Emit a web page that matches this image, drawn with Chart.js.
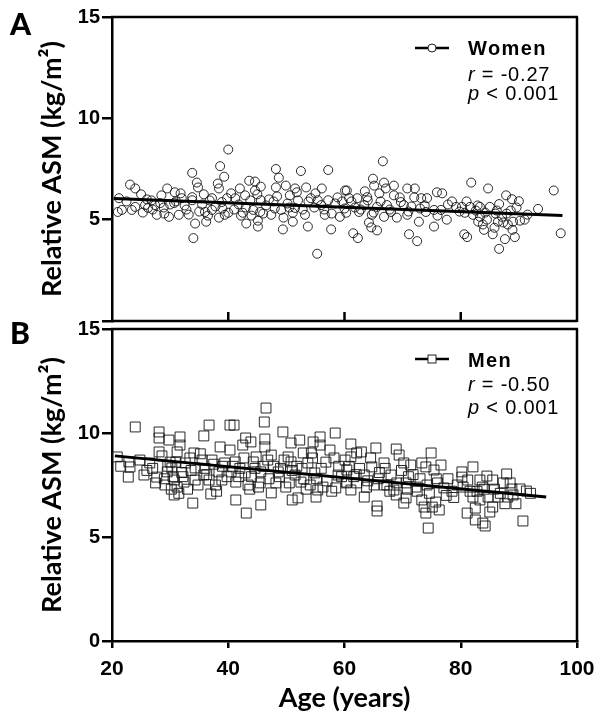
<!DOCTYPE html>
<html>
<head>
<meta charset="utf-8">
<script src="https://cdn.jsdelivr.net/npm/chart.js@4"></script>
<style>
  html, body { margin:0; padding:0; background:#fff; }
  #wrap { position:relative; width:604px; height:723px; overflow:hidden; background:#fff; }
  canvas { position:absolute; left:0; }
  .lbl { position:absolute; font-family:Lato, "Open Sans", sans-serif; font-weight:900; font-size:30px; color:#000; line-height:30px; }
  .leg { position:absolute; left:468px; font-family:"Liberation Sans", Arial, sans-serif; font-size:20px; letter-spacing:0.8px; color:#000; line-height:22px; white-space:nowrap; }
  .leg b { font-weight:700; letter-spacing:1.4px; }
  .key { position:absolute; }
</style>
</head>
<body>
<div id="wrap">
  <canvas id="cA" width="604" height="335" style="top:0px"></canvas>
  <canvas id="cB" width="604" height="423" style="top:300px"></canvas>
  <div class="lbl" style="left:10px; top:8px;">A</div>
  <div class="lbl" style="left:10px; top:317px;">B</div>

  <svg class="key" style="left:413px; top:40px" width="38" height="16">
    <line x1="2" y1="8" x2="36" y2="8" stroke="#000" stroke-width="2.5"/>
    <circle cx="19" cy="8" r="4" fill="#fff" stroke="#222" stroke-width="1"/>
  </svg>
  <div class="leg" style="top:37px;"><b>Women</b></div>
  <div class="leg" style="top:63px;"><i>r</i> = -0.27</div>
  <div class="leg" style="top:82px;"><i>p</i> &lt; 0.001</div>

  <svg class="key" style="left:413px; top:351px" width="38" height="16">
    <line x1="2" y1="8" x2="36" y2="8" stroke="#000" stroke-width="2.5"/>
    <rect x="15" y="4" width="8" height="8" fill="#fff" stroke="#222" stroke-width="1"/>
  </svg>
  <div class="leg" style="top:349px;"><b>Men</b></div>
  <div class="leg" style="top:373px;"><i>r</i> = -0.50</div>
  <div class="leg" style="top:396px;"><i>p</i> &lt; 0.001</div>
</div>
<script>
// ---------- data ----------
const xTicks = [20, 40, 60, 80, 100];
const yTicks = [0, 5, 10, 15];

const womenAge = [23.1,24.0,25.0,21.2,21.0,21.7,23.4,24.0,26.2,27.7,29.8,29.5,30.8,31.5,30.7,33.8,34.6,34.8,33.8,34.3,34.0,36.2,38.6,39.3,38.2,38.4,37.2,38.9,39.8,36.0,37.2,38.4,39.4,32.0,33.8,27.4,25.7,28.3,40.0,
48.2,48.7,52.5,57.2,43.6,44.6,45.6,42.0,44.6,48.2,49.9,51.5,53.4,56.1,60.1,48.4,42.9,41.2,45.6,50.6,54.2,55.4,57.2,40.0,42.5,44.3,45.5,47.4,49.1,51.1,53.2,56.6,59.2,43.1,45.1,49.4,51.1,53.7,57.7,55.3,45.1,51.5,56.0,
66.6,64.9,65.1,66.8,67.1,68.5,60.4,70.8,72.1,75.9,76.8,73.2,74.2,60.8,62.2,63.9,68.5,69.7,70.2,63.4,65.6,67.3,60.3,62.5,64.7,66.8,69.0,70.8,74.0,75.4,76.6,79.2,77.6,72.8,64.2,64.6,65.6,75.4,61.5,62.3,71.1,72.5,80.6,68.0,
81.8,84.7,96.0,87.8,88.8,90.0,86.6,93.3,80.2,81.6,83.3,85.0,80.7,82.1,83.0,83.8,86.4,87.3,88.1,90.2,81.1,85.5,87.6,89.3,86.6,97.2,83.3,87.1,
22.5,26.8,28.9,31.0,32.8,35.5,36.8,41.8,43.8,46.5,47.8,50.2,52.0,54.8,58.4,59.6,61.8,64.0,66.2,71.5,73.0,77.8,78.5,82.6,84.2,86.0,88.6,89.6,91.5,85.8,84.0,88.9,
25.3,26.0,27.0,28.5,29.0,30.0,31.8,32.5,33.2,35.0,35.8,36.5,37.8,39.0,40.5,41.0,42.2,43.0,44.0,45.0,46.0,47.0,48.0,49.5,50.5,51.8,52.8,53.8,55.0,56.5,57.8,58.8,60.0,61.2,62.8,63.5,65.0,66.0,67.8,69.5,71.0,72.0,73.8,76.0,79.8,81.0,82.9,84.5,86.2,87.9,89.0,91.0];
const womenAsm = [6.73,6.54,6.25,6.06,5.38,5.48,5.48,5.63,5.58,5.24,5.14,6.54,6.35,5.24,5.82,7.31,6.83,6.59,6.11,4.81,4.09,4.90,7.64,7.12,6.78,6.54,6.06,5.87,6.06,5.38,5.48,5.10,5.24,6.06,5.96,5.72,5.72,5.82,8.46,
7.50,7.07,7.40,7.45,6.92,6.88,6.63,6.54,6.44,6.59,6.68,6.54,6.59,6.54,6.44,6.15,6.20,6.06,5.96,6.20,6.06,5.96,5.96,5.34,5.34,5.48,5.38,5.24,5.48,5.34,5.24,5.24,5.14,4.81,4.66,4.52,4.90,4.66,4.52,3.32,4.95,5.58,5.72,
7.88,7.02,6.68,6.83,6.54,6.68,6.44,6.54,6.54,6.35,6.30,6.06,6.06,6.06,6.06,6.11,6.20,5.87,5.72,5.72,5.63,5.72,5.34,5.38,5.24,5.14,5.10,5.24,5.38,5.48,5.48,5.63,5.00,4.90,4.86,4.62,4.47,4.66,4.33,4.09,4.28,3.94,4.28,5.38,
6.83,6.54,6.44,6.20,6.01,5.91,5.77,5.53,5.63,5.63,5.63,5.63,5.34,5.24,4.90,4.76,4.90,4.86,4.76,4.95,4.14,4.28,4.04,4.14,3.56,4.33,5.14,5.14,
5.90,5.95,5.60,5.90,5.50,5.75,5.95,5.75,5.95,5.70,5.90,5.80,5.95,5.60,5.80,5.90,5.60,5.95,5.90,5.65,5.55,5.75,5.90,5.45,5.35,5.30,5.45,5.60,5.25,4.60,4.50,4.50,
5.35,6.00,5.50,6.20,5.30,5.75,6.30,5.70,5.25,5.40,6.25,5.20,5.65,5.55,6.30,5.50,5.20,5.60,5.20,6.25,5.30,6.00,5.55,5.10,5.60,6.35,5.50,5.90,6.30,5.50,5.30,6.10,5.55,5.90,5.50,6.40,5.35,6.30,5.50,6.10,5.40,6.10,5.70,5.20,5.40,5.90,5.70,5.00,5.45,5.30,4.90,5.00];
const womenFitAge = [20.3, 97.5];
const womenFitAsm = [6.05, 5.20];

const menAge = [24.0,28.1,28.1,29.8,31.7,31.7,36.7,35.8,38.6,40.3,28.1,31.2,34.1,37.2,20.9,22.9,26.5,23.1,22.8,25.5,27.7,29.5,30.3,30.7,29.1,31.2,32.4,34.3,35.8,36.7,38.4,38.9,30.7,33.9,37.0,34.3,32.6,35.5,33.4,39.4,
41.0,46.5,46.2,49.4,43.0,43.9,42.5,46.3,46.3,50.8,52.3,54.6,55.8,58.4,55.8,40.3,44.8,47.4,50.3,52.9,54.3,57.5,41.2,44.3,50.8,53.7,60.1,40.5,42.9,45.6,48.6,51.5,54.9,58.9,41.3,43.4,45.5,48.2,49.9,52.5,54.1,56.3,58.5,60.3,47.4,41.3,45.6,43.1,51.0,52.0,55.1,55.4,
61.1,62.9,65.4,68.9,69.4,74.9,61.1,62.1,64.7,66.8,70.2,71.4,73.3,74.0,76.6,75.4,60.4,63.4,68.0,60.4,62.1,65.1,66.8,68.5,70.6,72.3,74.2,77.1,79.4,80.2,61.1,63.4,68.9,70.6,70.2,73.3,73.7,75.7,76.3,75.1,65.6,65.6,74.0,74.4,67.3,
82.1,84.5,87.9,80.2,81.2,83.3,85.5,87.3,90.2,91.3,88.8,80.4,82.1,83.3,84.7,86.4,88.1,89.0,82.5,85.5,85.0,82.5,83.8,84.2,90.7,81.1,
27.0,29.0,30.0,32.0,33.0,36.0,37.8,39.8,42.0,44.0,46.0,47.0,49.0,51.0,53.0,56.0,57.0,59.0,62.0,64.0,66.0,69.0,71.0,72.5,75.8,77.5,78.5,82.8,86.8,89.5,84.0,30.2,31.5,
21.5,24.8,26.0,27.5,28.6,29.6,30.5,31.0,32.2,33.6,34.8,35.2,36.3,37.5,38.0,39.0,40.8,41.8,42.7,43.7,44.6,45.2,46.8,47.8,48.8,49.6,50.5,51.8,52.7,53.4,54.5,55.2,56.8,57.8,58.2,59.5,60.8,61.6,62.6,63.8,64.5,65.8,67.0,67.8,69.8,70.8,71.8,73.0,74.6,76.0,77.8,78.8,81.6,83.7,85.8,87.6,88.5,92.0];
const menAsm = [10.29,10.05,9.76,9.66,9.81,9.42,10.38,9.86,9.33,10.38,9.09,9.09,9.04,8.70,8.85,8.61,8.56,8.37,7.88,7.98,7.88,8.13,8.32,7.74,7.50,7.40,7.64,7.74,7.98,7.74,8.13,7.74,7.02,6.63,7.07,8.32,8.56,8.70,8.80,8.56,
10.38,11.20,10.53,10.05,9.76,9.57,9.42,9.71,9.33,9.52,9.66,9.57,9.81,10.00,9.42,9.18,8.85,8.94,8.85,9.04,9.04,9.18,8.61,8.61,8.61,8.56,8.70,8.13,8.08,8.13,8.13,7.98,8.08,7.98,7.64,7.50,7.60,7.60,7.40,7.64,7.50,7.40,7.36,7.60,7.12,6.78,6.54,6.15,6.78,6.88,6.92,7.26,
9.47,9.09,9.28,9.23,8.94,9.04,8.85,9.04,8.37,8.56,8.56,8.46,8.56,8.37,8.46,8.22,8.22,7.98,7.98,7.64,7.60,7.50,7.50,7.26,7.60,7.40,7.50,7.36,7.50,7.88,7.26,6.92,7.02,6.88,6.63,6.78,6.44,6.68,6.30,6.44,6.49,6.25,6.15,5.43,7.50,
8.37,7.93,8.03,8.13,7.74,7.74,7.74,7.60,7.31,7.21,7.31,7.40,6.92,6.78,6.92,6.92,6.92,7.02,6.39,6.44,6.20,5.82,5.67,5.53,5.77,6.15,
8.30,7.80,8.60,8.10,7.30,8.30,7.50,7.90,8.30,7.90,8.40,7.80,8.30,8.20,7.80,8.30,7.70,8.40,8.00,7.70,8.10,7.60,7.90,7.20,7.80,7.00,7.20,7.20,7.10,6.60,7.30,7.30,7.10,
8.40,8.70,8.20,7.60,8.90,8.40,7.90,8.60,7.90,8.20,7.50,9.00,8.00,8.50,7.20,8.40,8.40,7.90,8.80,7.30,8.30,7.40,8.70,8.40,7.90,8.70,7.60,8.40,8.30,7.30,8.80,7.80,8.60,7.20,8.80,7.90,8.40,7.90,8.30,7.40,8.80,7.80,8.30,7.20,8.20,7.30,8.00,7.80,7.10,7.60,7.80,6.90,7.20,7.40,7.30,6.60,7.60,7.10];
const menFitAge = [20.5, 94.7];
const menFitAsm = [8.90, 6.92];

const yTitle = 'Relative ASM (kg/m\u00B2)';
const xTitle = 'Age (years)';

// ---------- helpers ----------
const pts = (xs, ys) => xs.map((x, i) => ({x, y: ys[i]}));
const tickFont = {family: '"Liberation Sans", Arial, sans-serif', weight: 'bold', size: 20};
const titleFont = {family: 'Lato, "Open Sans", sans-serif', weight: 'bold', size: 27};
const AXW = 2.5;

function yScale(hideZero) {
  return {
    type: 'linear', min: 0, max: 15,
    afterBuildTicks: s => { s.ticks = yTicks.map(v => ({value: v})); },
    afterFit: s => { s.width = 112; },
    grid: {drawOnChartArea: false, drawTicks: true, tickLength: 10, color: '#000', lineWidth: AXW},
    border: {display: true, color: '#000', width: AXW},
    ticks: {color: '#000', font: tickFont, padding: 2,
      callback: v => (hideZero && v === 0) ? '' : String(v)},
    title: {display: true, text: yTitle, color: '#000', font: titleFont, padding: {top: 36, bottom: 0}}
  };
}

function framePlugin(id, sides, inwardTicks) {
  return {
    id,
    afterDraw(chart) {
      const {ctx, chartArea: a, scales: {x}} = chart;
      ctx.save();
      ctx.strokeStyle = '#000';
      ctx.lineWidth = AXW;
      ctx.beginPath();
      if (sides.includes('top')) { ctx.moveTo(a.left - 1, a.top); ctx.lineTo(a.right + 1, a.top); }
      if (sides.includes('right')) { ctx.moveTo(a.right, a.top); ctx.lineTo(a.right, a.bottom + 1); }
      if (sides.includes('bottom')) { ctx.moveTo(a.left, a.bottom); ctx.lineTo(a.right, a.bottom); }
      if (inwardTicks) {
        xTicks.slice(1, -1).forEach(v => {
          const px = x.getPixelForValue(v);
          ctx.moveTo(px, a.bottom); ctx.lineTo(px, a.bottom - 9);
        });
      }
      ctx.stroke();
      ctx.restore();
    }
  };
}

Chart.defaults.animation = false;

// ---------- Panel A: Women ----------
new Chart(document.getElementById('cA'), {
  type: 'scatter',
  data: {
    datasets: [
      {label: 'Women fit', type: 'line', data: pts(womenFitAge, womenFitAsm), borderColor: '#000', borderWidth: 3,
       pointRadius: 0, fill: false, order: 0},
      {label: 'Women', data: pts(womenAge, womenAsm), pointStyle: 'circle', pointRadius: 4.5,
       borderColor: 'rgba(20,20,20,0.9)', borderWidth: 1, backgroundColor: 'rgba(0,0,0,0)', order: 1}
    ]
  },
  options: {
    responsive: false, devicePixelRatio: 1, animation: false,
    layout: {padding: {top: 17, right: 27, bottom: 6, left: 0}},
    plugins: {legend: {display: false}, tooltip: {enabled: false}},
    scales: {
      x: {type: 'linear', min: 20, max: 100, display: false},
      y: yScale(true)
    }
  },
  plugins: [framePlugin('frameA', ['top', 'right', 'bottom'], true)]
});

// ---------- Panel B: Men ----------
new Chart(document.getElementById('cB'), {
  type: 'scatter',
  data: {
    datasets: [
      {label: 'Men fit', type: 'line', data: pts(menFitAge, menFitAsm), borderColor: '#000', borderWidth: 3,
       pointRadius: 0, fill: false, order: 0},
      {label: 'Men', data: pts(menAge, menAsm), pointStyle: 'rect', pointRadius: 7,
       borderColor: 'rgba(20,20,20,0.9)', borderWidth: 1, backgroundColor: 'rgba(0,0,0,0)', order: 1}
    ]
  },
  options: {
    responsive: false, devicePixelRatio: 1, animation: false,
    layout: {padding: {top: 29, right: 27, bottom: 0, left: 0}},
    plugins: {legend: {display: false}, tooltip: {enabled: false}},
    scales: {
      x: {
        type: 'linear', min: 20, max: 100,
        afterBuildTicks: s => { s.ticks = xTicks.map(v => ({value: v})); },
        afterFit: s => { s.height = 82; },
        grid: {drawOnChartArea: false, drawTicks: true, tickLength: 7, color: '#000', lineWidth: AXW},
        border: {display: true, color: '#000', width: AXW},
        ticks: {color: '#000', font: {...tickFont, size: 21}, padding: 9, maxRotation: 0},
        title: {display: true, text: xTitle, color: '#000', font: titleFont, padding: {top: 0, bottom: 9}}
      },
      y: yScale(false)
    }
  },
  plugins: [framePlugin('frameB', ['top', 'right'], false)]
});
</script>
</body>
</html>
